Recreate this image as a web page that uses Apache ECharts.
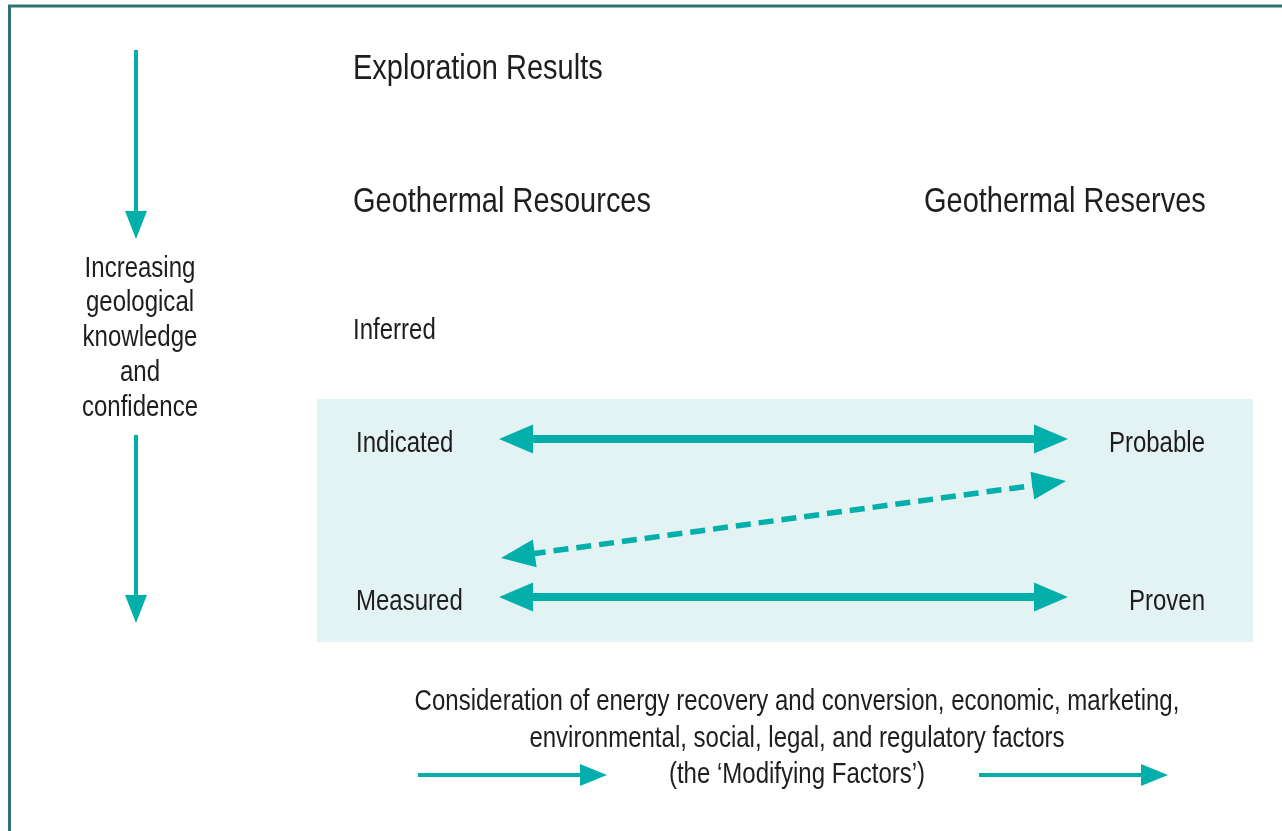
<!DOCTYPE html>
<html>
<head>
<meta charset="utf-8">
<script src="https://cdn.jsdelivr.net/npm/echarts@6/dist/echarts.min.js"></script>
<style>html,body{margin:0;padding:0;background:#fff}#c{width:1282px;height:831px}</style>
</head>
<body>
<div id="c"></div>
<script>
// ---- diagram content (positions in axis units of the hidden cartesian frame) ----
const headingTexts = ['Exploration Results', 'Geothermal Resources', 'Geothermal Reserves'];
const headingAnchors = [[353, 69], [353, 202], [924, 202]];

const resourceTexts = ['Inferred', 'Indicated', 'Measured'];
const resourceAnchors = [[353, 331], [356, 444], [356, 602]];

const reserveTexts = ['Probable', 'Proven'];
const reserveAnchors = [[1205, 444], [1205, 602]];

const knowledgeLines = ['Increasing', 'geological', 'knowledge', 'and', 'confidence'];
const knowledgeAnchors = [[140, 269], [140, 303], [140, 338], [140, 373], [140, 408]];

const factorLines = [
  'Consideration of energy recovery and conversion, economic, marketing,',
  'environmental, social, legal, and regulatory factors',
  '(the \u2018Modifying Factors\u2019)'
];
const factorAnchors = [[797, 702], [797, 739], [797, 775]];

// arrows: [x1, y1, x2, y2]
const arrowStart = [[136, 50], [136, 435], [499, 439], [499, 597], [501, 558], [418, 775], [979, 775]];
const arrowEnd   = [[136, 239], [136, 623], [1068, 439], [1068, 597], [1066, 481], [607, 775], [1168, 775]];
const arrowKind  = ['single', 'single', 'double', 'double', 'dashed', 'factor', 'factor'];

const panelCorners = [[317, 399], [1253, 642]];
const framePath = [[9.5, 831], [9.5, 6], [1282, 6]];

// ---- styles ----
const TEAL = '#03afab';
const INK = '#1f1d1e';
const FONT = "'Liberation Sans',Arial,sans-serif";
const NARROW = 0.828;
const arrowStyle = {
  single: {w: 4, hl: 28, hw: 22, both: false, dash: null},
  double: {w: 8, hl: 34, hw: 29, both: true, dash: null},
  dashed: {w: 5.5, hl: 34, hw: 28, both: true, dash: [15, 8]},
  factor: {w: 4, hl: 27, hw: 22, both: false, dash: null}
};

const chart = echarts.init(document.getElementById('c'), null, {renderer: 'canvas'});

function textSeries(name, texts, anchors, size, align) {
  return {
    name: name,
    type: 'custom',
    coordinateSystem: 'cartesian2d',
    clip: false,
    silent: true,
    z: 10,
    data: anchors.map((a, i) => [a[0], a[1], i]),
    encode: {x: 0, y: 1},
    renderItem: function (params, api) {
      const p = api.coord([api.value(0), api.value(1)]);
      return {
        type: 'text',
        x: p[0], y: p[1],
        scaleX: NARROW,
        style: {
          text: texts[api.value(2)],
          font: 'normal ' + size + 'px ' + FONT,
          fill: INK,
          align: align,
          verticalAlign: 'middle'
        }
      };
    }
  };
}

const option = {
  animation: false,
  grid: {left: 0, right: 0, top: 0, bottom: 0},
  xAxis: {type: 'value', min: 0, max: 1282, show: false},
  yAxis: {type: 'value', min: 0, max: 831, inverse: true, show: false},
  series: [
    {
      name: 'frame',
      type: 'custom', coordinateSystem: 'cartesian2d', clip: false, silent: true, z: 1,
      data: [[0, 0]],
      renderItem: function (params, api) {
        const a = api.coord(panelCorners[0]), b = api.coord(panelCorners[1]);
        return {
          type: 'group',
          children: [
            {
              type: 'polyline',
              shape: {points: framePath.map(p => api.coord(p))},
              style: {stroke: '#2f7472', lineWidth: 3, fill: null}
            },
            {
              type: 'rect',
              shape: {x: a[0], y: a[1], width: b[0] - a[0], height: b[1] - a[1]},
              style: {fill: '#e3f2f2'}
            }
          ]
        };
      }
    },
    {
      name: 'arrows',
      type: 'custom', coordinateSystem: 'cartesian2d', clip: false, silent: true, z: 5,
      data: arrowStart.map((s, i) => [s[0], s[1], arrowEnd[i][0], arrowEnd[i][1], i]),
      encode: {x: [0, 2], y: [1, 3]},
      renderItem: function (params, api) {
        const a = api.coord([api.value(0), api.value(1)]);
        const b = api.coord([api.value(2), api.value(3)]);
        const st = arrowStyle[arrowKind[api.value(4)]];
        const dx = b[0] - a[0], dy = b[1] - a[1];
        const len = Math.sqrt(dx * dx + dy * dy);
        const ux = dx / len, uy = dy / len;
        const nx = -uy, ny = ux;
        function head(tip, dir) {
          const bx = tip[0] - dir * ux * st.hl, by = tip[1] - dir * uy * st.hl;
          return {
            type: 'polygon',
            shape: {points: [tip, [bx + nx * st.hw / 2, by + ny * st.hw / 2], [bx - nx * st.hw / 2, by - ny * st.hw / 2]]},
            style: {fill: TEAL}
          };
        }
        const s0 = st.both ? [a[0] + ux * (st.hl - 4), a[1] + uy * (st.hl - 4)] : a;
        const s1 = [b[0] - ux * (st.hl - 4), b[1] - uy * (st.hl - 4)];
        const children = [{
          type: 'line',
          shape: {x1: s0[0], y1: s0[1], x2: s1[0], y2: s1[1]},
          style: {stroke: TEAL, lineWidth: st.w, lineDash: st.dash || null, lineCap: 'butt'}
        }, head(b, 1)];
        if (st.both) children.push(head(a, -1));
        return {type: 'group', children: children};
      }
    },
    textSeries('headings', headingTexts, headingAnchors, 35, 'left'),
    textSeries('resources', resourceTexts, resourceAnchors, 29, 'left'),
    textSeries('reserves', reserveTexts, reserveAnchors, 29, 'right'),
    textSeries('knowledge', knowledgeLines, knowledgeAnchors, 29, 'center'),
    textSeries('factors', factorLines, factorAnchors, 29, 'center')
  ]
};
chart.setOption(option);
</script>
</body>
</html>
